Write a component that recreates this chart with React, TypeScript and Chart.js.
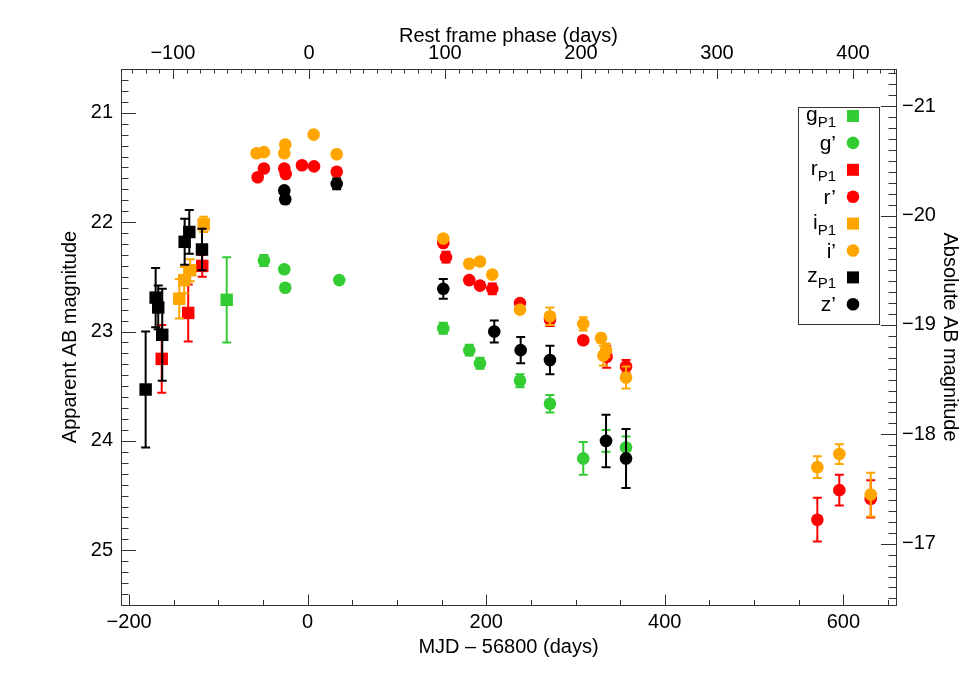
import React, { useEffect, useRef } from 'react';
import { Chart, registerables } from 'chart.js';

Chart.register(...registerables);

// ---------- constants of the figure ----------
const DIST_MOD = 41.94;       // apparent - absolute
const TIME_DILATION = 1.5235; // (1+z)
const PHASE_ZERO = 1.45;      // MJD-56800 of rest-frame phase 0

const X_MIN = -209.1;
const X_MAX = 659.0;
const Y_MIN = 20.6;
const Y_MAX = 25.5;

// tick labels
const xTicks = [-200, 0, 200, 400, 600];
const xTopTicks = [-100, 0, 100, 200, 300, 400];
const yTicks = [21, 22, 23, 24, 25];
const yRightTicks = [-21, -20, -19, -18, -17];

// ---------- data (MJD - 56800, AB mag, error) ----------
const gP1Mjd = [-90.7];
const gP1Mag = [22.71];
const gP1Err = [0.39];

const gMjd = [-49, -26.2, -25.1, 35.4, 151.9, 181, 193, 237.8, 271.4, 308.7, 334.2, 356.6];
const gMag = [22.35, 22.43, 22.6, 22.53, 22.97, 23.17, 23.29, 23.45, 23.66, 24.16, 24.0, 24.06];
const gErr = [0.05, 0.03, 0.03, 0.03, 0.05, 0.05, 0.05, 0.06, 0.08, 0.15, 0.1, 0.1];

const rP1Mjd = [-163.5, -133.8, -118.1];
const rP1Mag = [23.25, 22.83, 22.4];
const rP1Err = [0.31, 0.26, 0.1];

const rMjd = [-56, -49, -26.2, -24.6, -6.4, 7.1, 32.5, 151.9, 154.9, 181, 193, 206.8, 237.8, 271.4, 308.7, 334.9, 356.6, 570.9, 595.5, 630.7];
const rMag = [21.59, 21.51, 21.51, 21.56, 21.48, 21.49, 21.54, 22.19, 22.32, 22.53, 22.58, 22.61, 22.74, 22.89, 23.08, 23.23, 23.32, 24.72, 24.45, 24.53];
const rErr = [0.02, 0.02, 0.02, 0.02, 0.02, 0.02, 0.02, 0.03, 0.05, 0.03, 0.03, 0.05, 0.03, 0.06, 0.03, 0.1, 0.06, 0.2, 0.14, 0.17];

const iP1Mjd = [-143.8, -138.3, -131.6, -116.5];
const iP1Mag = [22.7, 22.53, 22.44, 22.02];
const iP1Err = [0.18, 0.12, 0.1, 0.07];

const iMjd = [-57.2, -49, -25.1, -26.2, 6.7, 32.5, 151.9, 181, 193, 206.8, 237.8, 271.4, 308.7, 328.6, 334.2, 331.2, 356.6, 570.9, 595.5, 630.7];
const iMag = [21.37, 21.36, 21.29, 21.37, 21.2, 21.38, 22.15, 22.38, 22.36, 22.48, 22.8, 22.86, 22.93, 23.06, 23.17, 23.22, 23.42, 24.24, 24.12, 24.49];
const iErr = [0.02, 0.02, 0.02, 0.02, 0.02, 0.02, 0.03, 0.03, 0.03, 0.03, 0.03, 0.08, 0.06, 0.04, 0.06, 0.09, 0.1, 0.1, 0.09, 0.2];

const zP1Mjd = [-181.5, -170.3, -167.4, -162.9, -137.8, -132.6, -118.4];
const zP1Mag = [23.53, 22.69, 22.78, 23.03, 22.18, 22.09, 22.25];
const zP1Err = [0.53, 0.27, 0.2, 0.42, 0.21, 0.2, 0.19];

const zMjd = [-26.2, -25.1, 32.5, 151.9, 209, 238.6, 271.4, 334.2, 356.6];
const zMag = [21.71, 21.79, 21.65, 22.61, 23.0, 23.17, 23.26, 24.0, 24.16];
const zErr = [0.03, 0.04, 0.05, 0.09, 0.1, 0.12, 0.13, 0.24, 0.27];

const GREEN = '#33cc33';
const RED = '#ff0000';
const ORANGE = '#ffa500';
const BLACK = '#000000';

const FONT = "'Liberation Sans', Arial, Helvetica, sans-serif";

const series = [
  { label: 'g', sub: 'P1', style: 'rect', color: GREEN, x: gP1Mjd, y: gP1Mag, e: gP1Err },
  { label: 'g\u2019', sub: '', style: 'circle', color: GREEN, x: gMjd, y: gMag, e: gErr },
  { label: 'r', sub: 'P1', style: 'rect', color: RED, x: rP1Mjd, y: rP1Mag, e: rP1Err },
  { label: 'r\u2019', sub: '', style: 'circle', color: RED, x: rMjd, y: rMag, e: rErr },
  { label: 'i', sub: 'P1', style: 'rect', color: ORANGE, x: iP1Mjd, y: iP1Mag, e: iP1Err },
  { label: 'i\u2019', sub: '', style: 'circle', color: ORANGE, x: iMjd, y: iMag, e: iErr },
  { label: 'z', sub: 'P1', style: 'rect', color: BLACK, x: zP1Mjd, y: zP1Mag, e: zP1Err },
  { label: 'z\u2019', sub: '', style: 'circle', color: BLACK, x: zMjd, y: zMag, e: zErr },
];

const fmt = (v: number) => (v < 0 ? '\u2212' + Math.abs(v) : String(v));

function range(a: number, b: number, step: number) {
  const out: number[] = [];
  const start = Math.ceil(a / step - 1e-9);
  const end = Math.floor(b / step + 1e-9);
  for (let k = start; k <= end; k++) out.push(+(k * step).toFixed(6));
  return out;
}

const errorBarPlugin = {
  id: 'errorBars',
  beforeDatasetDraw(chart: any, args: any) {
    const ds = chart.data.datasets[args.index];
    const errs: number[] = ds.errors;
    if (!errs) return;
    const xs = chart.scales.x;
    const ys = chart.scales.y;
    const ctx = chart.ctx;
    ctx.save();
    ctx.strokeStyle = ds.backgroundColor;
    ctx.lineWidth = 2;
    ds.data.forEach((p: any, i: number) => {
      const e = errs[i];
      const px = xs.getPixelForValue(p.x);
      const y1 = ys.getPixelForValue(p.y - e);
      const y2 = ys.getPixelForValue(p.y + e);
      ctx.beginPath();
      ctx.moveTo(px, y1);
      ctx.lineTo(px, y2);
      ctx.moveTo(px - 4.5, y1);
      ctx.lineTo(px + 4.5, y1);
      ctx.moveTo(px - 4.5, y2);
      ctx.lineTo(px + 4.5, y2);
      ctx.stroke();
    });
    ctx.restore();
  },
};

const minorTickPlugin = {
  id: 'ioTicks',
  beforeDatasetsDraw(chart: any) {
    const { ctx, chartArea: a, scales } = chart;
    ctx.save();
    ctx.strokeStyle = '#333';
    ctx.lineWidth = 1;
    const line = (x1: number, y1: number, x2: number, y2: number) => {
      ctx.beginPath();
      ctx.moveTo(x1, y1);
      ctx.lineTo(x2, y2);
      ctx.stroke();
    };
    const rx = (v: number) => Math.round(v) + 0.5;
    // bottom
    range(X_MIN, X_MAX, 50).forEach((v) => {
      const px = rx(scales.x.getPixelForValue(v));
      const len = v % 200 === 0 ? 10.5 : 5;
      line(px, a.bottom, px, a.bottom - len);
    });
    // top
    const tMin = scales.xTop.min, tMax = scales.xTop.max;
    range(tMin, tMax, 10).forEach((v) => {
      const px = rx(scales.xTop.getPixelForValue(v));
      const len = v % 100 === 0 ? 10 : 4.5;
      line(px, a.top, px, a.top + len);
    });
    // left
    range(Y_MIN, Y_MAX, 0.1).forEach((v) => {
      const py = rx(scales.y.getPixelForValue(v));
      const major = Math.abs(v - Math.round(v)) < 1e-6;
      line(a.left, py, a.left + (major ? 15 : 7.5), py);
    });
    // right
    range(scales.yR.min, scales.yR.max, 0.1).forEach((v) => {
      const py = rx(scales.yR.getPixelForValue(v));
      const major = Math.abs(v - Math.round(v)) < 1e-6;
      line(a.right, py, a.right - (major ? 15 : 7.5), py);
    });
    ctx.restore();
  },
};

const legendPlugin = {
  id: 'customLegend',
  afterDraw(chart: any) {
    const ctx = chart.ctx;
    ctx.save();
    ctx.strokeStyle = '#333';
    ctx.lineWidth = 1;
    ctx.strokeRect(798.5, 107.5, 81, 217);
    const textRight = 836;
    const markerX = 853;
    series.forEach((s, i) => {
      const my = 116 + i * 26.9;
      ctx.fillStyle = '#000';
      ctx.textBaseline = 'alphabetic';
      ctx.textAlign = 'left';
      if (s.sub) {
        ctx.font = `15px ${FONT}`;
        const sw = ctx.measureText(s.sub).width;
        ctx.font = `21px ${FONT}`;
        const mw = ctx.measureText(s.label).width;
        const x0 = textRight - sw - mw;
        ctx.fillText(s.label, x0, my + 5);
        ctx.font = `15px ${FONT}`;
        ctx.fillText(s.sub, x0 + mw, my + 11);
      } else {
        ctx.font = `21px ${FONT}`;
        const mw = ctx.measureText(s.label).width;
        ctx.fillText(s.label, textRight - mw, my + 7);
      }
      ctx.fillStyle = s.color;
      if (s.style === 'rect') {
        ctx.fillRect(markerX - 6, my - 6, 12, 12);
      } else {
        ctx.beginPath();
        ctx.arc(markerX, my, 6.3, 0, Math.PI * 2);
        ctx.fill();
      }
    });
    ctx.restore();
  },
};

export default function App() {
  const canvasRef = useRef<HTMLCanvasElement | null>(null);

  useEffect(() => {
    if (!canvasRef.current) return;
    Chart.defaults.font.family = FONT;
    Chart.defaults.color = '#000';

    const datasets = series.map((s, i) => ({
      label: s.label + s.sub,
      data: s.x.map((xv, k) => ({ x: xv, y: s.y[k] })),
      errors: s.e,
      pointStyle: s.style,
      pointRadius: s.style === 'rect' ? 8.8 : 6.3,
      pointHoverRadius: s.style === 'rect' ? 8.8 : 6.3,
      backgroundColor: s.color,
      borderColor: s.color,
      borderWidth: 0,
      showLine: false,
      order: series.length - i,
      xAxisID: 'x',
      yAxisID: 'y',
    }));

    const tickFont = { size: 20, family: FONT, lineHeight: 1.2 };
    const titleFont = { size: 20, family: FONT, lineHeight: 1.2 };
    const border = { display: true, color: '#333', width: 1 };
    const grid = { display: false, drawTicks: false, tickLength: 0 };

    const chart = new Chart(canvasRef.current, {
      type: 'scatter',
      data: { datasets } as any,
      plugins: [errorBarPlugin, minorTickPlugin, legendPlugin],
      options: {
        responsive: false,
        animation: false,
        devicePixelRatio: 1,
        layout: { padding: 0 },
        plugins: { legend: { display: false }, tooltip: { enabled: false } },
        scales: {
          x: {
            type: 'linear',
            position: 'bottom',
            min: X_MIN,
            max: X_MAX,
            grid,
            border,
            afterBuildTicks: (sc: any) => { sc.ticks = xTicks.map((v) => ({ value: v })); },
            afterFit: (sc: any) => { sc.height = 87; },
            ticks: { font: tickFont, padding: 5, maxRotation: 0, autoSkip: false, callback: (v: any) => fmt(Number(v)) },
            title: { display: true, text: 'MJD \u2013 56800 (days)', font: titleFont, padding: { top: 0, bottom: 33 } },
          },
          xTop: {
            type: 'linear',
            position: 'top',
            min: (X_MIN - PHASE_ZERO) / TIME_DILATION,
            max: (X_MAX - PHASE_ZERO) / TIME_DILATION,
            grid,
            border,
            afterBuildTicks: (sc: any) => { sc.ticks = xTopTicks.map((v) => ({ value: v })); },
            afterFit: (sc: any) => { sc.height = 69; },
            ticks: { font: tickFont, padding: 4, maxRotation: 0, autoSkip: false, callback: (v: any) => fmt(Number(v)) },
            title: { display: true, text: 'Rest frame phase (days)', font: titleFont, padding: { top: 24, bottom: 0 } },
          },
          y: {
            type: 'linear',
            position: 'left',
            reverse: true,
            min: Y_MIN,
            max: Y_MAX,
            grid,
            border,
            afterBuildTicks: (sc: any) => { sc.ticks = yTicks.map((v) => ({ value: v })); },
            afterFit: (sc: any) => { sc.width = 121; },
            ticks: { font: tickFont, padding: 8, autoSkip: false, callback: (v: any) => fmt(Number(v)) },
            title: { display: true, text: 'Apparent AB magnitude', font: titleFont, padding: { top: 58, bottom: 0 } },
          },
          yR: {
            type: 'linear',
            position: 'right',
            reverse: true,
            min: Y_MIN - DIST_MOD,
            max: Y_MAX - DIST_MOD,
            grid,
            border,
            afterBuildTicks: (sc: any) => { sc.ticks = yRightTicks.map((v) => ({ value: v })); },
            afterFit: (sc: any) => { sc.width = 73; },
            ticks: { font: tickFont, padding: 6, autoSkip: false, callback: (v: any) => fmt(Number(v)) },
            title: { display: true, text: 'Absolute AB magnitude', font: titleFont, padding: { top: 7, bottom: 0 } },
          },
        },
      } as any,
    });
    return () => chart.destroy();
  }, []);

  return (
    <div style={{ position: 'fixed', left: 0, top: 0, width: 969, height: 692, background: '#fff' }}>
      <canvas ref={canvasRef} width={969} height={692} style={{ display: 'block', width: 969, height: 692 }} />
    </div>
  );
}
